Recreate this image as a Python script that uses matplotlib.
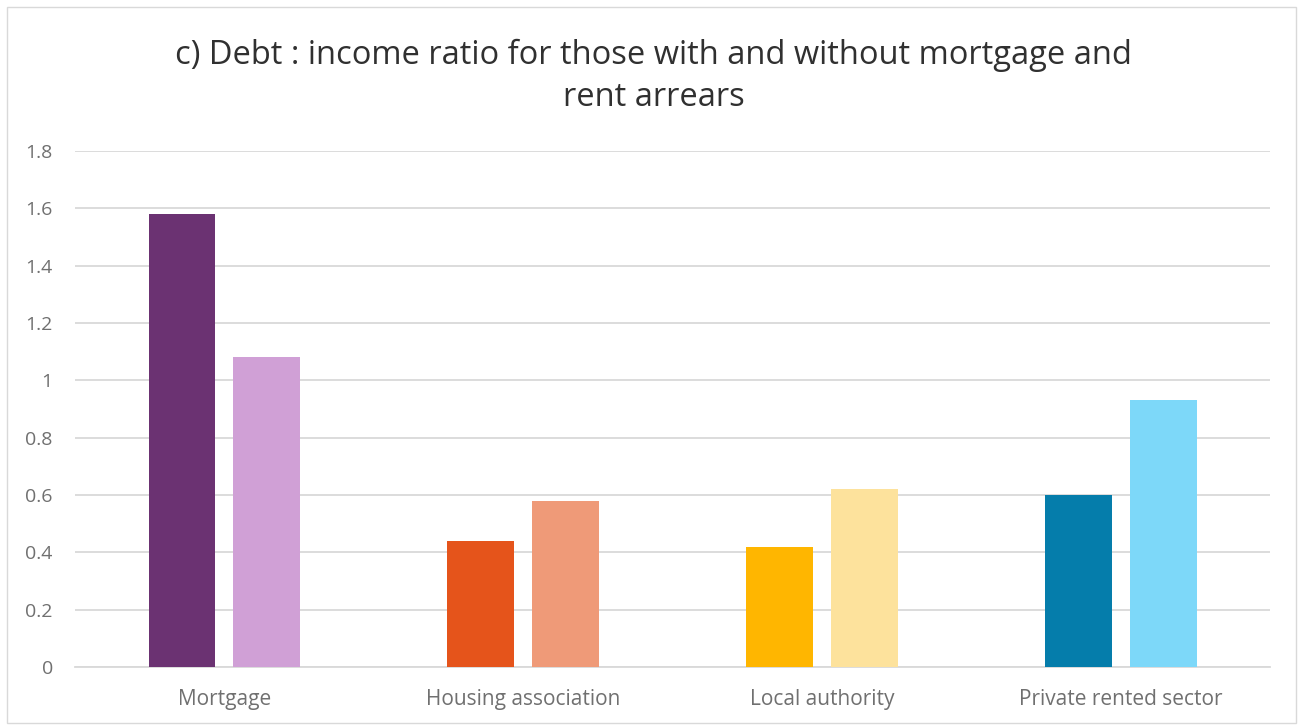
import numpy as np
import matplotlib.pyplot as plt
from matplotlib.patches import Rectangle

categories = ['Mortgage', 'Housing association', 'Local authority', 'Private rented sector']
with_arrears = [1.58, 0.44, 0.42, 0.60]
without_arrears = [1.08, 0.58, 0.62, 0.93]
dark_colors = ['#6B3272', '#E5541B', '#FFB600', '#057DAB']
light_colors = ['#D0A0D6', '#EF9A78', '#FDE29C', '#7DD8F9']
yticks = [0, 0.2, 0.4, 0.6, 0.8, 1, 1.2, 1.4, 1.6, 1.8]
ytick_labels = ['0', '0.2', '0.4', '0.6', '0.8', '1', '1.2', '1.4', '1.6', '1.8']

plt.rcParams['font.family'] = ['Open Sans', 'DejaVu Sans']

fig = plt.figure(figsize=(13, 7.27), dpi=100)
ax = fig.add_axes([0.0577, 0.0825, 0.9193, 0.7098])

x = np.arange(len(categories))
w = 0.224
ax.bar(x - 0.142, with_arrears, width=w, color=dark_colors, zorder=3)
ax.bar(x + 0.142, without_arrears, width=w, color=light_colors, zorder=3)

ax.set_xlim(-0.5, 3.5)
ax.set_ylim(0, 1.8)
ax.set_yticks(yticks)
ax.set_yticklabels(ytick_labels)
ax.set_xticks(x)
ax.set_xticklabels(categories)
ax.grid(axis='y', color='#D9D9D9', linewidth=1.3, zorder=0)
for s in ['top', 'right', 'left']:
    ax.spines[s].set_visible(False)
ax.spines['bottom'].set_color('#D9D9D9')
ax.spines['bottom'].set_linewidth(1.3)
ax.tick_params(axis='both', length=0, colors='#707070')
ax.tick_params(axis='x', pad=15.5, labelsize=15)
ax.tick_params(axis='y', pad=16, labelsize=14)

fig.text(0.503, 0.895, 'c) Debt : income ratio for those with and without mortgage and\nrent arrears',
         ha='center', va='center', fontsize=23.5, color='#303030', linespacing=1.35)

# thin frame around the whole chart area
fig.patches.append(Rectangle((0.005, 0.006), 0.992, 0.984, transform=fig.transFigure,
                             fill=False, edgecolor='#D9D9D9', linewidth=1))

fig.savefig('out.png', dpi=100, facecolor='white')
